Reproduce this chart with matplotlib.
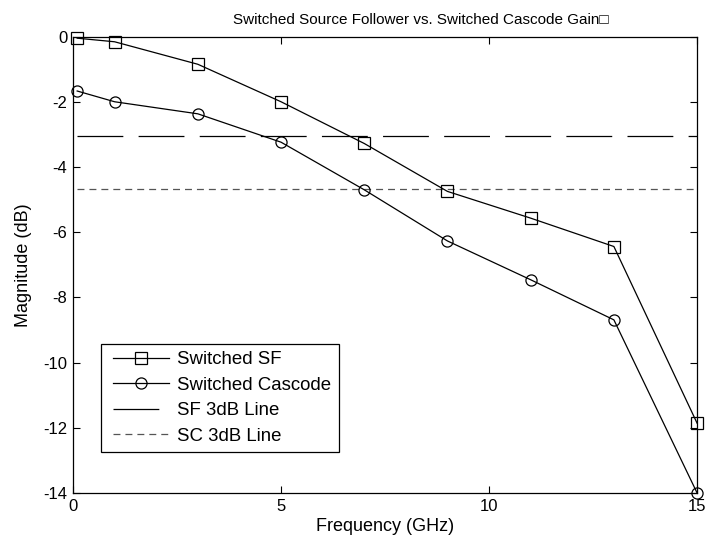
import matplotlib
matplotlib.use("Agg")
import matplotlib.pyplot as plt
from matplotlib.lines import Line2D
from matplotlib.legend_handler import HandlerLine2D

plt.rcParams['font.family'] = ['Liberation Sans', 'DejaVu Sans']
plt.rcParams['font.size'] = 12
plt.rcParams['axes.unicode_minus'] = False
plt.rcParams['lines.scale_dashes'] = False

freq = [0.1, 1, 3, 5, 7, 9, 11, 13, 15]
sf_gain = [-0.05, -0.16, -0.85, -2.0, -3.28, -4.75, -5.57, -6.44, -11.86]
sc_gain = [-1.67, -2.0, -2.37, -3.24, -4.70, -6.27, -7.46, -8.69, -14.0]
sf_3db = -3.05
sc_3db = -4.67

xticks = [0, 5, 10, 15]
yticks = [0, -2, -4, -6, -8, -10, -12, -14]

fig = plt.figure(figsize=(7.06, 5.44), dpi=100)
ax = fig.add_axes([0.1034, 0.0938, 0.884, 0.839])

ax.plot(freq, sf_gain, color='black', lw=0.9, marker='s', ms=8,
        mfc='none', mec='black', mew=0.9, label='Switched SF', clip_on=False, zorder=3)
ax.plot(freq, sc_gain, color='black', lw=0.9, marker='o', ms=8,
        mfc='none', mec='black', mew=0.9, label='Switched Cascode', clip_on=False, zorder=3)
ax.plot([freq[0], freq[-1]], [sf_3db, sf_3db], color='black', lw=0.9,
        dashes=(33, 11), label='SF 3dB Line')
ax.plot([freq[0], freq[-1]], [sc_3db, sc_3db], color='#555555', lw=0.9,
        dashes=(5, 3.6), label='SC 3dB Line')

ax.set_xlim(0, 15)
ax.set_ylim(-14, 0)
ax.set_xticks(xticks)
ax.set_yticks(yticks)
ax.tick_params(direction='in', top=True, right=True, length=5, width=0.8,
               labelsize=12, pad=4)
for s in ax.spines.values():
    s.set_linewidth(0.9)

ax.set_title('Switched Source Follower vs. Switched Cascode Gain\u25a1',
             fontsize=11, pad=9, x=0.558)
ax.set_xlabel('Frequency (GHz)', fontsize=13, labelpad=3)
ax.set_ylabel('Magnitude (dB)', fontsize=13, labelpad=8)

leg = ax.legend(loc='upper left', bbox_to_anchor=(101 / 706, 1 - 344 / 544),
                bbox_transform=fig.transFigure, borderaxespad=0,
                fancybox=False, edgecolor='black', framealpha=1,
                handlelength=3.29, handletextpad=0.43, borderpad=0.38,
                labelspacing=0.46, fontsize=13.4,
                handler_map={Line2D: HandlerLine2D(xpad=0.26)})
leg.get_frame().set_linewidth(0.9)

fig.savefig('out.png', dpi=100)
